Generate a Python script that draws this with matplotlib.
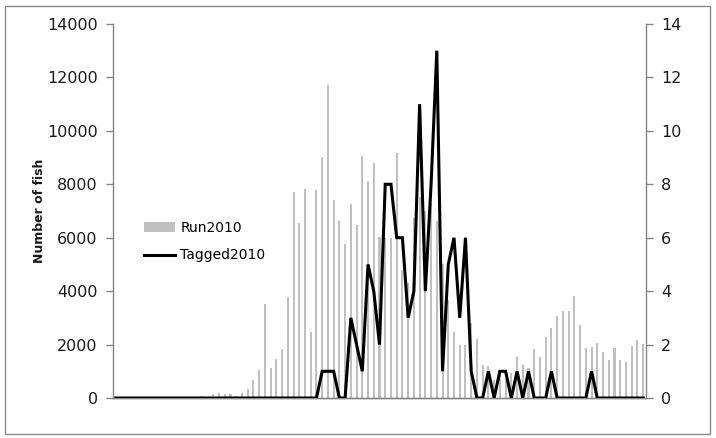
import matplotlib
matplotlib.use("Agg")
import matplotlib.pyplot as plt
from matplotlib.patches import Rectangle

# Daily run size (left axis) and number of tagged fish (right axis), 2010
days = list(range(93))

run2010 = [
    0, 0, 0, 0, 0, 0, 0, 0, 0, 0,
    0, 0, 0, 0, 0, 60, 0, 140, 200, 150,
    140, 75, 200, 320, 680, 1060, 3530, 1120, 1450, 1820,
    3780, 7710, 6550, 7820, 2470, 7770, 9020, 11700, 7420, 6620,
    5770, 7270, 6480, 9060, 8130, 8800, 6010, 6000, 6000, 9180,
    4790, 4290, 6730, 7540, 7000, 7290, 6640, 5000, 3670, 2480,
    2000, 2000, 2800, 2200, 1240, 1210, 690, 900, 700, 940,
    1540, 1220, 1110, 1830, 1550, 2270, 2620, 3070, 3270, 3270,
    3810, 2720, 1860, 1920, 2060, 1720, 1420, 1860, 1420, 1360,
    1950, 2180, 2010,
]

tagged2010 = [
    0, 0, 0, 0, 0, 0, 0, 0, 0, 0,
    0, 0, 0, 0, 0, 0, 0, 0, 0, 0,
    0, 0, 0, 0, 0, 0, 0, 0, 0, 0,
    0, 0, 0, 0, 0, 0, 1, 1, 1, 0,
    0, 3, 2, 1, 5, 4, 2, 8, 8, 6,
    6, 3, 4, 11, 4, 8, 13, 1, 5, 6,
    3, 6, 1, 0, 0, 1, 0, 1, 1, 0,
    1, 0, 1, 0, 0, 0, 1, 0, 0, 0,
    0, 0, 0, 1, 0, 0, 0, 0, 0, 0,
    0, 0, 0,
]

left_ticks = [0, 2000, 4000, 6000, 8000, 10000, 12000, 14000]
right_ticks = [0, 2, 4, 6, 8, 10, 12, 14]

W, H = 716, 438
fig = plt.figure(figsize=(W / 100, H / 100), dpi=100)
fig.patch.set_facecolor("white")

# chart-area border
fig.add_artist(Rectangle((5 / W, 4 / H), 705 / W, 428 / H,
                         transform=fig.transFigure, fill=False,
                         edgecolor="#8a8a8a", linewidth=1.0))

ax = fig.add_axes([113 / W, 40 / H, 533 / W, 374 / H])
ax2 = ax.twinx()

axis_grey = "#868686"
ax.bar(days, run2010, width=0.36, color="#c0c0c0", label="Run2010", zorder=2)
ax.set_xlim(-0.5, len(days) - 0.5)
ax.set_ylim(0, 14000)
ax.set_yticks(left_ticks)
ax.set_xticks([])

ax2.plot(days, tagged2010, color="black", linewidth=2.2,
         solid_joinstyle="miter", label="Tagged2010", zorder=3)
ax2.set_ylim(0, 14)
ax2.set_yticks(right_ticks)

for a in (ax, ax2):
    a.spines["top"].set_visible(False)
    for s in ("left", "right", "bottom"):
        a.spines[s].set_color(axis_grey)
        a.spines[s].set_linewidth(1.0)
    a.tick_params(axis="y", direction="out", length=5, width=1.0,
                  color=axis_grey, labelsize=11.5, labelcolor="#1a1a1a", pad=6)
ax.spines["right"].set_visible(False)
ax2.spines["left"].set_visible(False)

ax.set_ylabel("Number of fish", fontsize=9, fontweight="bold",
              color="#1a1a1a", labelpad=1)

h1, l1 = ax.get_legend_handles_labels()
h2, l2 = ax2.get_legend_handles_labels()
leg = ax2.legend(h1 + h2, l1 + l2, loc="upper left",
                 bbox_to_anchor=(25 / 533, (398 - 215) / 374),
                 frameon=False, fontsize=10, handlelength=2.3,
                 handletextpad=0.35, labelspacing=1.0, borderaxespad=0)

fig.savefig("out.png", dpi=100, facecolor="white")
